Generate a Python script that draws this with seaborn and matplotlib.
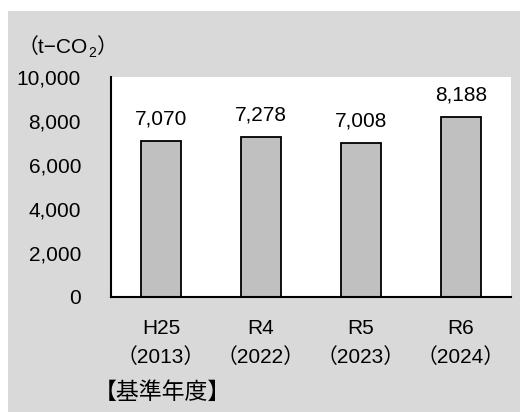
import matplotlib
matplotlib.use('Agg')
import matplotlib.pyplot as plt
from matplotlib.patches import Rectangle
from matplotlib.ticker import FuncFormatter
import seaborn as sns
import pandas as pd

# Fiscal years and CO2 emissions (t-CO2)
years = ['H25\n（2013）', 'R4\n（2022）', 'R5\n（2023）', 'R6\n（2024）']
emissions = [7070, 7278, 7008, 8188]
y_ticks = [0, 2000, 4000, 6000, 8000, 10000]
unit_main = '（t−CO'
unit_sub = '2'
unit_close = '）'
base_year_note = '【基準年度】'

sns.set_style('white')
plt.rcParams['font.family'] = ['Liberation Sans', 'Noto Sans CJK JP']

W, H = 520, 412
fig = plt.figure(figsize=(W / 100, H / 100), dpi=100)
fig.patch.set_facecolor('white')

# grey chart-area panel
fig.add_artist(Rectangle((8 / W, 0), 1 - 8 / W, 1 - 11 / H,
                         transform=fig.transFigure, facecolor='#D9D9D9',
                         edgecolor='none', zorder=-10))

ax = fig.add_axes([111 / W, 1 - 297 / H, 400 / W, 220 / H])
ax.set_facecolor('white')

df = pd.DataFrame({'year': years, 'value': emissions})
sns.barplot(data=df, x='year', y='value', color='#C0C0C0', saturation=1,
            edgecolor='black', linewidth=1.3, width=0.4, ax=ax)

ax.set_xlim(-0.5, 3.5)
ax.set_ylim(0, 10000)
ax.set_xlabel('')
ax.set_ylabel('')

for side in ('top', 'right'):
    ax.spines[side].set_visible(False)
for side in ('left', 'bottom'):
    ax.spines[side].set_color('black')
    ax.spines[side].set_linewidth(1.5)

ax.set_yticks(y_ticks)
ax.yaxis.set_major_formatter(FuncFormatter(lambda v, _: f'{int(v):,}'))
ax.tick_params(axis='y', direction='in', length=7, width=1.5, pad=21.6,
               labelsize=15, colors='black')
ax.tick_params(axis='x', which='major', length=0, pad=16, labelsize=15,
               colors='black')
ax.set_xticks([0.5, 1.5, 2.5, 3.5], minor=True)
ax.tick_params(axis='x', which='minor', direction='in', length=5, width=1.5,
               colors='black')
for lbl in ax.get_xticklabels():
    lbl.set_linespacing(1.55)

# value labels above the bars
for i, v in enumerate(emissions):
    ax.annotate(f'{v:,}', (i, v), xytext=(0, 12), textcoords='offset points',
                ha='center', va='baseline', fontsize=15, color='black')

# unit label with subscript
fig.canvas.draw()
renderer = fig.canvas.get_renderer()
t1 = fig.text(18 / W, 1 - 53 / H, unit_main, ha='left', va='baseline',
              fontsize=15, color='black')
bb = t1.get_window_extent(renderer)
t2 = fig.text(bb.x1 / W, 1 - 57 / H, unit_sub, ha='left', va='baseline',
              fontsize=10, color='black')
bb2 = t2.get_window_extent(renderer)
fig.text(bb2.x1 / W, 1 - 53 / H, unit_close, ha='left', va='baseline',
         fontsize=15, color='black')

fig.text(94 / W, 1 - 392 / H, base_year_note, ha='left', va='center',
         fontsize=16.5, color='black')

fig.savefig('out.png', dpi=100)
